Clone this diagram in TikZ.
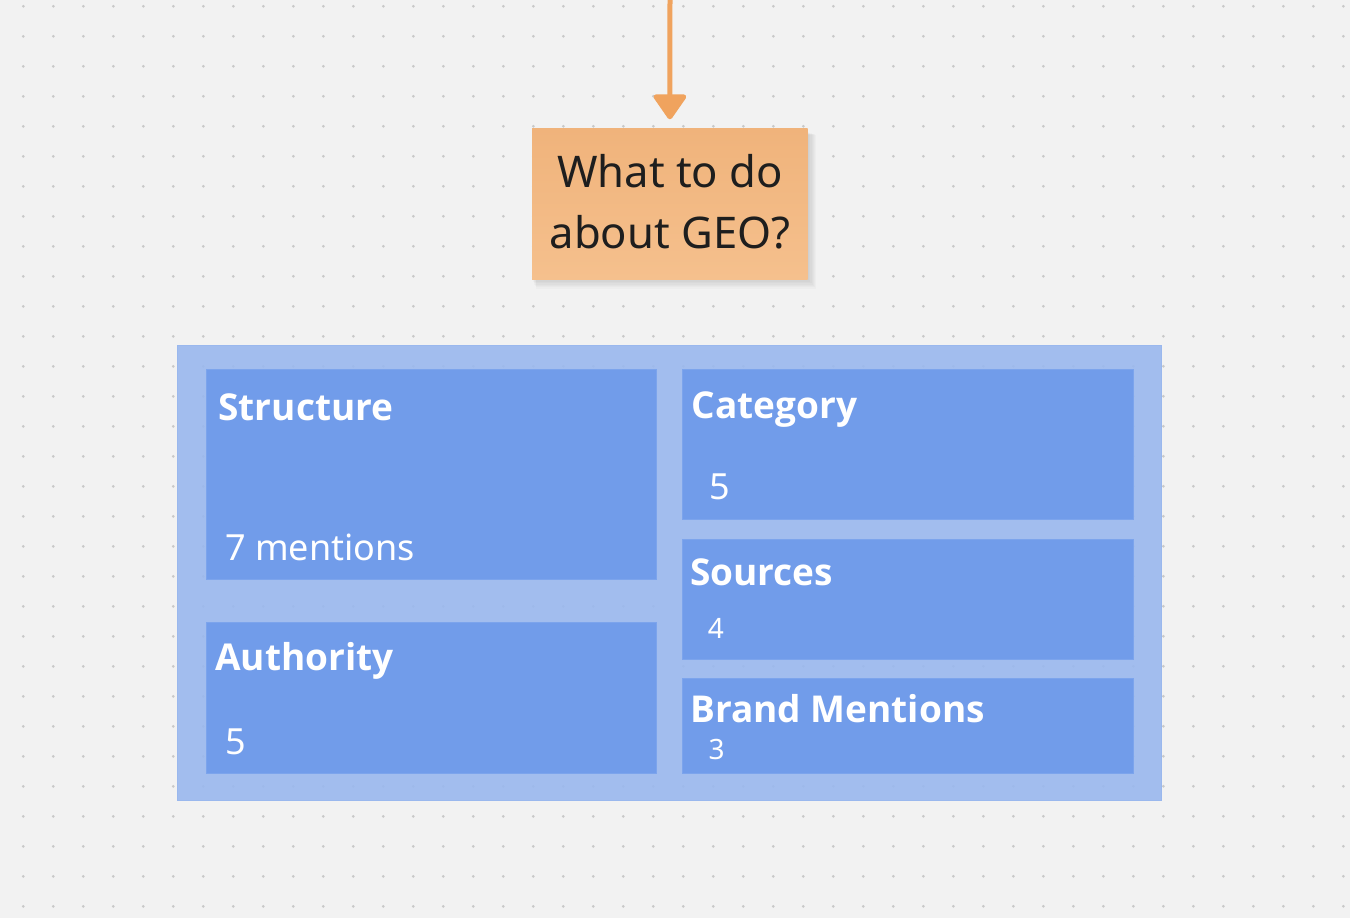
\documentclass[tikz,border=0pt]{standalone}
\usepackage{fontspec}
\setmainfont{Noto Sans}
\newfontfamily\titlefont{Open Sans}
\usetikzlibrary{arrows.meta}
\definecolor{bgc}{HTML}{F2F2F2}
\definecolor{dotc}{HTML}{C9C9C9}
\definecolor{contc}{HTML}{9AB8EE}
\definecolor{boxc}{HTML}{719CEA}
\definecolor{boxedge}{HTML}{7CA4EC}
\definecolor{stickytop}{HTML}{F0B37B}
\definecolor{stickybot}{HTML}{F5C08D}
\definecolor{arrowc}{HTML}{F0A35E}
\definecolor{inkc}{HTML}{1E1E1E}
\tikzset{
  container/.style={rectangle, fill=contc, fill opacity=0.9, draw=contc, line width=0.8pt, inner sep=0pt, outer sep=0pt},
  cardbox/.style={rectangle, fill=boxc, draw=boxedge, line width=1pt, inner sep=0pt, outer sep=0pt},
  cardtitle/.style={anchor=base west, inner sep=0pt, text=white, font=\titlefont\bfseries\fontsize{37}{44}\selectfont},
  cardcount/.style={anchor=base west, inner sep=0pt, text=white, font=\fontsize{36}{43}\selectfont},
  cardsmall/.style={anchor=base west, inner sep=0pt, text=white, font=\fontsize{28}{34}\selectfont},
  stickynote/.style={rectangle, inner sep=0pt, outer sep=0pt, top color=stickytop, bottom color=stickybot},
  stickytext/.style={anchor=base, inner sep=0pt, text=inkc, font=\fontsize{43.6}{52}\selectfont},
  flowarrow/.style={draw=arrowc, line width=5pt, -{Triangle[width=36pt,length=27pt,round]}, fill=arrowc}
}
\begin{document}
\begin{tikzpicture}[x=1pt,y=-1pt]
\useasboundingbox (0,0) rectangle (1350,918);
\fill[bgc] (0,0) rectangle (1350,918);
% dot grid
\foreach \i in {0,...,44} {
  \foreach \j in {0,...,30} {
    \fill[dotc] (23.3+30*\i, 6.3+30*\j) circle[radius=1.5pt];
  }
}
% sticky shadow
\foreach \k in {1,...,7} {
  \fill[black, opacity=0.018] (532+\k*0.6, 132+\k*0.4) rectangle (808+\k*1.2, 279+\k*1.4);
}
% sticky note
\node[stickynote, minimum width=275.7pt, minimum height=150.7pt] (sticky) at (669.85,203.65) {};
\node[stickytext] (q1) at (670,187) {What to do};
\node[stickytext] (q2) at (670,248) {about GEO?};
% arrow into the note
\coordinate (atop) at (670,-2);
\draw[flowarrow, shorten >=9pt] (atop) -- (sticky.north);
% container
\node[container, minimum width=983.7pt, minimum height=454.3pt] (group) at (669.15,572.85) {};
% cards
\node[cardbox, minimum width=450pt, minimum height=210pt] (structure) at (431.7,474.3) {};
\node[cardbox, minimum width=450pt, minimum height=150.6pt] (authority) at (431.7,698) {};
\node[cardbox, minimum width=450.6pt, minimum height=149.7pt] (category) at (908,444.15) {};
\node[cardbox, minimum width=450.6pt, minimum height=120pt] (sources) at (908,599) {};
\node[cardbox, minimum width=450.6pt, minimum height=95pt] (brand) at (908,725.8) {};
% card texts
\node[cardtitle] (structT) at (218.3,420.5) {Structure};
\node[cardcount] (structN) at (225,560) {7 mentions};
\node[cardtitle] (authT) at (215,670.5) {Authority};
\node[cardcount] (authN) at (225,754) {5};
\node[cardtitle] (catT) at (691.7,418) {Category};
\node[cardcount] (catN) at (709,499.3) {5};
\node[cardtitle] (srcT) at (690,585.5) {Sources};
\node[cardsmall] (srcN) at (707.7,638.3) {4};
\node[cardtitle] (brandT) at (690,722.5) {Brand Mentions};
\node[cardsmall] (brandN) at (708.3,759.3) {3};
\end{tikzpicture}
\end{document}
